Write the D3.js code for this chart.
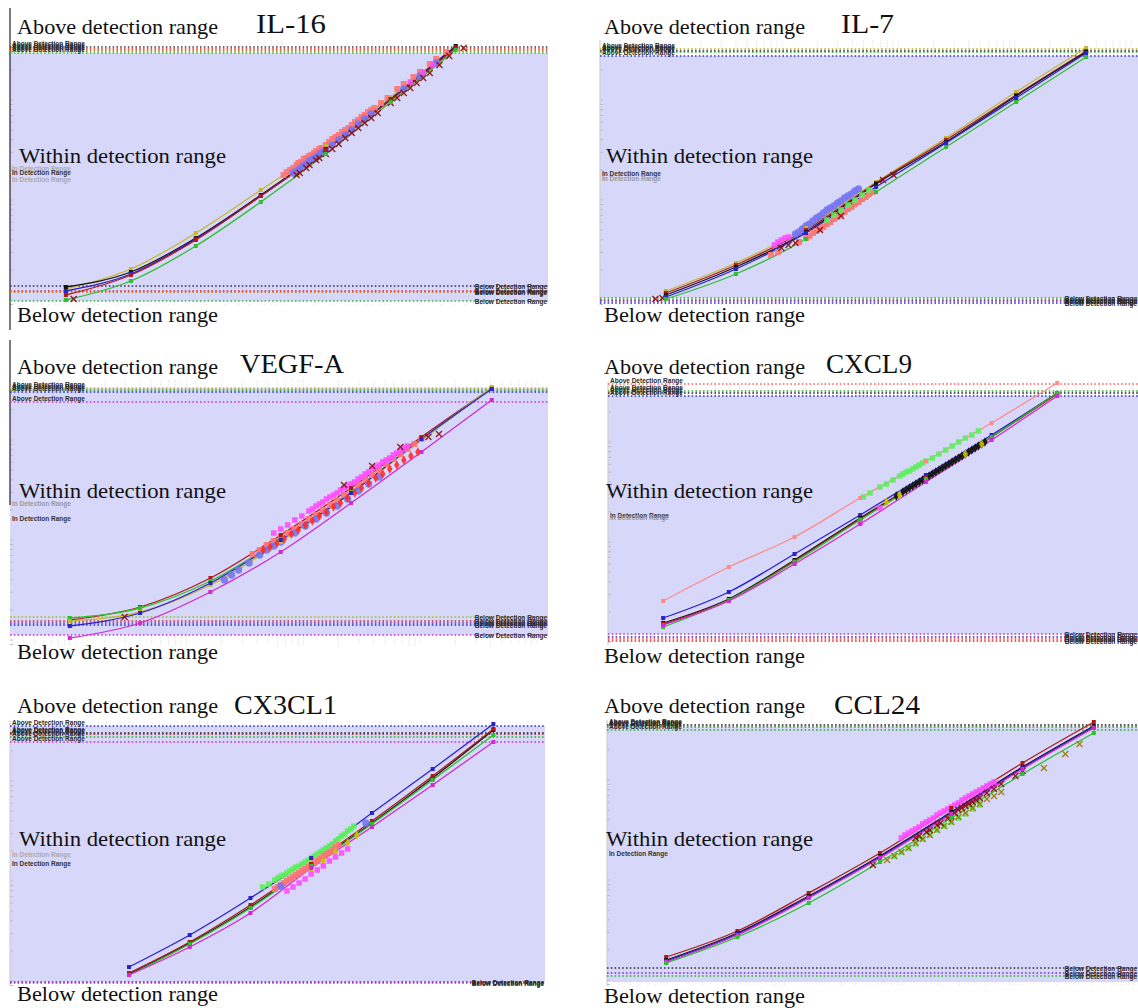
<!DOCTYPE html>
<html>
<head>
<meta charset="utf-8">
<script src="https://cdn.jsdelivr.net/npm/d3@7"></script>
<style>
  body { margin: 0; background: #fff; }
  svg { display: block; }
</style>
</head>
<body>
<div id="chart"></div>
<script>
// x: dilution step of the 4-fold standard series (S7 .. S1), y: log10 MFI
var stdSteps = [0, 1, 2, 3, 4, 5, 6];
var panelNames = ["IL-16", "IL-7", "VEGF-A", "CXCL9", "CX3CL1", "CCL24"];

// ---- standard curves (log10 MFI at each standard)
var il16Std = {
  olive: [2.11, 2.31, 2.67, 3.10, 3.54, 4.03, 4.54],
  black: [2.13, 2.28, 2.62, 3.05, 3.51, 4.01, 4.54],
  blue:  [2.09, 2.26, 2.61, 3.04, 3.50, 4.01, 4.53],
  red:   [2.05, 2.25, 2.60, 3.04, 3.50, 4.00, 4.52],
  green: [2.00, 2.19, 2.54, 2.98, 3.46, 3.98, 4.50]
};
var il7Std = {
  olive: [2.09, 2.37, 2.72, 3.18, 3.62, 4.08, 4.52],
  red:   [2.07, 2.35, 2.70, 3.17, 3.60, 4.05, 4.49],
  black: [2.05, 2.33, 2.68, 3.16, 3.58, 4.04, 4.48],
  blue:  [2.03, 2.31, 2.67, 3.13, 3.57, 4.02, 4.47],
  green: [2.01, 2.26, 2.61, 3.08, 3.53, 3.98, 4.43]
};
var vegfStd = {
  red:     [2.20, 2.33, 2.62, 3.05, 3.52, 4.03, 4.52],
  green:   [2.22, 2.32, 2.59, 3.01, 3.48, 4.00, 4.52],
  olive:   [2.19, 2.28, 2.55, 2.98, 3.47, 4.00, 4.53],
  blue:    [2.14, 2.27, 2.57, 3.00, 3.47, 4.01, 4.51],
  magenta: [2.02, 2.17, 2.48, 2.88, 3.37, 3.88, 4.40]
};
var cxcl9Std = {
  pink:    [2.41, 2.75, 3.05, 3.44, 3.81, 4.19, 4.59],
  blue:    [2.24, 2.50, 2.88, 3.27, 3.67, 4.07, 4.49],
  black:   [2.19, 2.43, 2.82, 3.24, 3.64, 4.05, 4.49],
  red:     [2.18, 2.42, 2.81, 3.23, 3.64, 4.05, 4.48],
  green:   [2.15, 2.42, 2.80, 3.22, 3.63, 4.05, 4.49],
  magenta: [2.17, 2.41, 2.78, 3.18, 3.60, 4.02, 4.46]
};
var cx3cl1Std = {
  blue:    [2.14, 2.46, 2.83, 3.23, 3.68, 4.12, 4.57],
  black:   [2.07, 2.38, 2.74, 3.16, 3.58, 4.03, 4.51],
  red:     [2.08, 2.39, 2.76, 3.17, 3.60, 4.05, 4.52],
  green:   [2.06, 2.37, 2.73, 3.15, 3.57, 4.01, 4.46],
  magenta: [2.06, 2.34, 2.68, 3.13, 3.54, 3.96, 4.39]
};
var ccl24Std = {
  red:     [2.23, 2.49, 2.87, 3.27, 3.72, 4.17, 4.58],
  black:   [2.20, 2.47, 2.84, 3.24, 3.68, 4.13, 4.54],
  blue:    [2.19, 2.46, 2.83, 3.23, 3.67, 4.12, 4.53],
  magenta: [2.18, 2.45, 2.82, 3.22, 3.66, 4.11, 4.52],
  green:   [2.17, 2.43, 2.77, 3.18, 3.62, 4.06, 4.47]
};

// ---- detection limits (log10 MFI)
var il16Upper = [4.53, 4.51, 4.49, 4.47],         il16Lower = [2.14, 2.09, 2.08, 1.99];
var il7Upper = [4.51, 4.49, 4.48, 4.44],          il7Lower = [2.02, 2.00, 1.99, 1.97];
var vegfUpper = [4.52, 4.50, 4.48, 4.38],         vegfLower = [2.23, 2.19, 2.17, 2.15, 2.05];
var cxcl9Upper = [4.58, 4.51, 4.49, 4.46],        cxcl9Lower = [2.08, 2.05, 2.03, 2.01];
var cx3cl1Upper = [4.55, 4.48, 4.47, 4.44, 4.39], cx3cl1Lower = [1.99, 1.98];
var ccl24Upper = [4.55, 4.54, 4.53, 4.50],        ccl24Lower = [2.12, 2.07, 2.04];

// ---- samples [step, log10 MFI]
var il16Samples = {
  salmon: [[3.35,3.25],[3.40,3.28],[3.45,3.30],[3.50,3.32],[3.55,3.35],[3.58,3.37],[3.62,3.38],[3.66,3.41],[3.70,3.42],[3.74,3.44],[3.78,3.45],[3.82,3.47],[3.85,3.49],[3.90,3.51],[3.93,3.52],[4.00,3.55],[4.05,3.58],[4.10,3.61],[4.15,3.63],[4.20,3.65],[4.25,3.68],[4.30,3.70],[4.35,3.72],[4.40,3.75],[4.45,3.78],[4.50,3.80],[4.55,3.83],[4.60,3.85],[4.65,3.88],[4.70,3.90],[4.75,3.92],[4.85,3.97],[4.95,4.02],[5.10,4.11],[5.20,4.16],[5.35,4.23],[5.45,4.28],[5.60,4.36],[5.70,4.41],[5.85,4.48]],
  periwinkle: [[3.50,3.27],[3.55,3.29],[3.60,3.31],[3.65,3.34],[3.70,3.36],[3.75,3.39],[3.80,3.41],[3.85,3.43],[3.90,3.46],[3.95,3.48],[4.00,3.50],[4.10,3.55],[4.20,3.60],[4.30,3.65],[4.40,3.70],[4.50,3.76],[4.60,3.81],[4.70,3.86],[5.20,4.11],[5.45,4.24],[5.70,4.37]],
  magenta: [[5.30,4.18],[5.50,4.28],[5.65,4.35]],
  maroon: [[0.12,2.01],[3.55,3.25],[3.60,3.27],[3.70,3.32],[3.75,3.35],[3.85,3.40],[3.90,3.42],[4.00,3.46],[4.10,3.51],[4.20,3.56],[4.30,3.62],[4.40,3.67],[4.50,3.72],[4.60,3.77],[4.70,3.82],[4.80,3.87],[5.00,3.97],[5.10,4.02],[5.20,4.07],[5.30,4.12],[5.40,4.17],[5.50,4.22],[5.60,4.27],[5.75,4.35],[5.90,4.44],[6.12,4.52]]
};
var il7Samples = {
  salmon: [[1.50,2.45],[1.60,2.48],[1.90,2.58],[2.00,2.62],[2.05,2.64],[2.10,2.67],[2.15,2.69],[2.20,2.71],[2.25,2.73],[2.30,2.76],[2.35,2.78],[2.40,2.81],[2.45,2.83],[2.50,2.86],[2.55,2.88],[2.60,2.91],[2.65,2.93],[2.70,2.96],[2.75,2.98],[2.80,3.01],[2.85,3.03],[2.90,3.06],[2.95,3.08]],
  periwinkle: [[1.85,2.66],[1.90,2.68],[1.95,2.71],[2.00,2.74],[2.05,2.76],[2.10,2.79],[2.15,2.82],[2.20,2.84],[2.25,2.87],[2.30,2.90],[2.35,2.92],[2.40,2.94],[2.45,2.97],[2.50,2.99],[2.55,3.02],[2.60,3.04],[2.65,3.06],[2.70,3.09],[2.75,3.11]],
  magenta: [[1.55,2.55],[1.60,2.58],[1.65,2.60],[1.70,2.62],[1.75,2.63]],
  green: [[2.30,2.80],[2.40,2.85],[2.50,2.90],[2.60,2.95],[2.70,3.00],[2.80,3.05],[2.90,3.10]],
  maroon: [[-0.15,2.01],[-0.05,2.02],[1.65,2.52],[1.75,2.55],[1.85,2.57],[2.20,2.70],[2.50,2.84],[3.10,3.20],[3.25,3.25]]
};
var vegfSamples = {
  salmon: [[2.60,2.86],[2.70,2.90],[2.80,2.95],[2.90,2.99],[3.00,3.03],[3.10,3.07],[3.20,3.11],[3.30,3.16],[3.40,3.21],[3.50,3.25],[3.60,3.30],[3.70,3.35],[3.80,3.40],[3.90,3.45],[4.00,3.50],[4.10,3.55],[4.20,3.60],[4.30,3.65],[4.40,3.70],[4.50,3.76],[4.60,3.81],[4.70,3.86],[4.80,3.91],[4.90,3.96],[5.00,4.01]],
  periwinkle: [[2.20,2.60],[2.30,2.65],[2.40,2.70],[2.55,2.77],[2.70,2.85],[2.80,2.90],[2.90,2.94],[3.00,2.98],[3.20,3.07],[3.35,3.14],[3.50,3.21],[3.65,3.27],[3.80,3.34],[3.95,3.41],[4.10,3.49],[4.25,3.56],[4.40,3.63]],
  magenta: [[2.90,3.07],[3.00,3.11],[3.10,3.15],[3.20,3.20],[3.30,3.24],[3.40,3.29],[3.45,3.31],[3.50,3.34],[3.55,3.36],[3.60,3.38],[3.65,3.41],[3.70,3.43],[3.75,3.45],[3.80,3.47],[3.85,3.50],[3.90,3.52],[3.95,3.54],[4.00,3.56],[4.05,3.58],[4.10,3.61],[4.15,3.63],[4.20,3.66],[4.25,3.68],[4.30,3.71],[4.35,3.73],[4.40,3.75],[4.45,3.78],[4.50,3.80],[4.55,3.82],[4.60,3.85],[4.65,3.87],[4.70,3.89],[4.75,3.92],[4.80,3.94]],
  red: [[2.75,2.90],[2.85,2.93],[2.95,2.97],[3.05,3.01],[3.15,3.06],[3.25,3.10],[3.35,3.15],[3.45,3.19],[3.55,3.24],[3.65,3.28],[3.75,3.33],[3.85,3.37],[3.95,3.42],[4.05,3.47],[4.15,3.52],[4.25,3.57],[4.35,3.62],[4.45,3.66],[4.55,3.71],[4.65,3.75],[4.75,3.80],[4.85,3.84],[4.95,3.88]],
  maroon: [[0.78,2.23],[3.90,3.55],[4.30,3.74],[4.70,3.93],[5.10,4.03],[5.25,4.06]]
};
var cxcl9Samples = {
  green: [[3.05,3.45],[3.15,3.49],[3.30,3.55],[3.40,3.58],[3.50,3.62],[3.60,3.66],[3.65,3.68],[3.70,3.70],[3.75,3.71],[3.80,3.73],[3.85,3.75],[3.90,3.77],[3.95,3.79],[4.00,3.81],[4.10,3.84],[4.20,3.88],[4.30,3.92],[4.40,3.96],[4.50,4.00],[4.60,4.04],[4.70,4.07],[4.80,4.11]],
  magenta: [[3.00,3.20],[3.30,3.34]],
  black: [[3.55,3.46],[3.65,3.50],[3.70,3.52],[3.75,3.54],[3.80,3.56],[3.85,3.58],[3.90,3.60],[3.95,3.62],[4.00,3.64],[4.05,3.66],[4.10,3.68],[4.15,3.70],[4.20,3.72],[4.25,3.74],[4.30,3.76],[4.35,3.78],[4.40,3.80],[4.45,3.82],[4.50,3.84],[4.55,3.86],[4.60,3.88],[4.65,3.90],[4.70,3.92],[4.75,3.94],[4.80,3.96],[4.85,3.98],[4.90,4.00]],
  yellow: [[3.40,3.40],[3.60,3.47],[4.60,3.88],[4.85,3.98]]
};
var cx3cl1Samples = {
  green: [[2.20,2.94],[2.30,2.97],[2.40,3.01],[2.45,3.03],[2.50,3.05],[2.55,3.06],[2.60,3.08],[2.65,3.10],[2.70,3.12],[2.75,3.14],[2.80,3.15],[2.85,3.17],[2.90,3.19],[2.95,3.21],[3.00,3.23],[3.05,3.25],[3.10,3.27],[3.15,3.29],[3.20,3.31],[3.25,3.33],[3.30,3.35],[3.35,3.37],[3.40,3.40],[3.45,3.42],[3.50,3.45],[3.55,3.47],[3.60,3.50],[3.65,3.52],[3.70,3.55]],
  salmon: [[2.40,2.92],[2.45,2.94],[2.50,2.96],[2.55,2.98],[2.60,3.00],[2.65,3.02],[2.70,3.04],[2.75,3.06],[2.80,3.08],[2.85,3.10],[2.90,3.12],[2.95,3.14],[3.00,3.16],[3.05,3.18],[3.10,3.20],[3.15,3.22],[3.20,3.25],[3.25,3.27],[3.30,3.29],[3.35,3.31],[3.40,3.34],[3.45,3.36]],
  yellow: [[3.00,3.12],[3.20,3.20],[3.40,3.29],[3.60,3.38],[3.75,3.46]],
  magenta: [[2.60,2.90],[2.70,2.94],[2.80,2.98],[2.90,3.02],[3.00,3.07],[3.10,3.11],[3.20,3.15],[3.30,3.20],[3.40,3.24],[3.50,3.28],[3.60,3.32]],
  periwinkle: [[2.50,2.95],[3.90,3.58]]
};
var ccl24Samples = {
  magenta: [[3.30,3.42],[3.35,3.45],[3.40,3.47],[3.45,3.49],[3.50,3.51],[3.55,3.53],[3.60,3.56],[3.65,3.58],[3.70,3.60],[3.75,3.62],[3.80,3.65],[3.85,3.67],[3.90,3.69],[3.95,3.71],[4.00,3.73],[4.05,3.75],[4.10,3.77],[4.15,3.80],[4.20,3.82],[4.25,3.84],[4.30,3.86],[4.35,3.88],[4.40,3.90],[4.45,3.92],[4.50,3.94],[4.55,3.96],[4.60,3.98]],
  green: [[3.20,3.24],[3.30,3.28],[3.40,3.32],[3.50,3.36],[3.60,3.41],[3.70,3.45],[3.80,3.50],[3.90,3.54],[4.00,3.58],[4.10,3.62],[4.20,3.66],[4.30,3.71],[4.40,3.75]],
  olive: [[3.10,3.20],[3.20,3.24],[3.30,3.28],[3.40,3.32],[3.50,3.37],[3.60,3.41],[3.70,3.45],[3.80,3.50],[3.90,3.54],[4.00,3.58],[4.10,3.63],[4.20,3.67],[4.30,3.72],[4.40,3.76],[4.50,3.81],[4.60,3.84],[4.70,3.88],[5.30,4.12],[5.60,4.26],[5.80,4.36]],
  maroon: [[2.90,3.15],[3.50,3.42],[3.55,3.44],[3.65,3.48],[3.70,3.50],[3.80,3.55],[3.85,3.57],[3.95,3.62],[4.00,3.64],[4.05,3.67],[4.10,3.70],[4.15,3.72],[4.20,3.74],[4.25,3.76],[4.30,3.78],[4.35,3.80],[4.40,3.82],[4.50,3.87],[4.60,3.91],[4.70,3.96],[4.90,4.04],[5.00,4.09]]
};

var panelStd = [il16Std, il7Std, vegfStd, cxcl9Std, cx3cl1Std, ccl24Std];
var panelUpper = [il16Upper, il7Upper, vegfUpper, cxcl9Upper, cx3cl1Upper, ccl24Upper];
var panelLower = [il16Lower, il7Lower, vegfLower, cxcl9Lower, cx3cl1Lower, ccl24Lower];
var panelSamples = [il16Samples, il7Samples, vegfSamples, cxcl9Samples, cx3cl1Samples, ccl24Samples];

// ---- styles
var stdColors = {olive: "#c4b832", black: "#161616", blue: "#2a22cc", red: "#b01a1a",
                 green: "#2fbf2f", magenta: "#cf2bcf", pink: "#ff8a8a"};
var sampleStyles = {
  salmon:     {color: "#ff7474", shape: "square",  size: 6},
  periwinkle: {color: "#7676f2", shape: "circle",  size: 6.5},
  magenta:    {color: "#ff4cff", shape: "square",  size: 5.5},
  green:      {color: "#5cf05c", shape: "square",  size: 5.5},
  black:      {color: "#101010", shape: "diamond", size: 5},
  yellow:     {color: "#c9c200", shape: "diamond", size: 5},
  red:        {color: "#ff2a2a", shape: "diamond", size: 5},
  maroon:     {color: "#8a0c0c", shape: "x",       size: 5},
  olive:      {color: "#9a7800", shape: "x",       size: 5}
};

var layout = [
  {tx: 17, left: 10, right: 548, top: 40, bottom: 305, xDomain: [-0.86, 7.42], yDomain: [1.95, 4.6], bg: [1.99, 4.47],
   aboveY: 34, withinY: 163, belowY: 322, titleX: 256, titleY: 33, titleLen: 70, axis: [8, 330, "#222"],
   upperColors: ["#444", "#d83030", "#c06000", "#30c030"], lowerColors: ["#333366", "#d83030", "#c87000", "#30c030"],
   inLabels: [[171, "#aaa"], [175, "#333"], [182, "#aaa"]]},
  {tx: 604, left: 600, right: 1138, top: 40, bottom: 305, xDomain: [-0.94, 6.74], yDomain: [1.95, 4.6], bg: [2.02, 4.44],
   aboveY: 34, withinY: 163, belowY: 322, titleX: 841, titleY: 33, titleLen: 53, axis: [40, 305, "#cfcfcf"],
   upperColors: ["#c0b020", "#222", "#30b030", "#3030c0"], lowerColors: ["#30b030", "#b03030", "#8030c0", "#3030d0"],
   inLabels: [[176, "#333"], [181, "#999"]]},
  {tx: 17, left: 10, right: 548, top: 380, bottom: 645, xDomain: [-0.85, 6.80], yDomain: [1.95, 4.6], bg: [2.05, 4.52],
   aboveY: 374, withinY: 498, belowY: 659, titleX: 240, titleY: 373, titleLen: 104, axis: [340, 505, "#222"],
   upperColors: ["#c0c020", "#30b030", "#3030c0", "#d030d0"], lowerColors: ["#a0c020", "#d03030", "#8030a0", "#3030c0", "#d030d0"],
   inLabels: [[506, "#999"], [521, "#333"]]},
  {tx: 604, left: 608, right: 1138, top: 382, bottom: 645, xDomain: [-0.84, 7.23], yDomain: [1.97, 4.6], bg: [2.08, 4.46],
   aboveY: 374, withinY: 498, belowY: 663, titleX: 826, titleY: 373, titleLen: 86, axis: [382, 645, "#cfcfcf"],
   upperColors: ["#ff6060", "#30b030", "#222", "#3030d0"], lowerColors: ["#c040c0", "#3030d0", "#ff4040", "#e03030"],
   inLabels: [[518, "#333"], [520, "#999"]]},
  {tx: 17, left: 10, right: 545, top: 721, bottom: 986, xDomain: [-1.96, 6.85], yDomain: [1.95, 4.6], bg: [1.99, 4.55],
   aboveY: 713, withinY: 846, belowY: 1001, titleX: 234, titleY: 714, titleLen: 103, axis: [721, 986, "#cfcfcf"],
   upperColors: ["#3030d0", "#222", "#a02020", "#30b030", "#d030d0"], lowerColors: ["#3030d0", "#c030c0"],
   inLabels: [[857, "#aaa"], [866, "#333"]]},
  {tx: 604, left: 607, right: 1138, top: 720, bottom: 986, xDomain: [-0.83, 6.62], yDomain: [1.94, 4.6], bg: [1.98, 4.53],
   aboveY: 713, withinY: 846, belowY: 1003, titleX: 834, titleY: 714, titleLen: 86, axis: [720, 986, "#cfcfcf"],
   upperColors: ["#222", "#c030c0", "#30b030", "#30b030"], lowerColors: ["#333", "#8030c0", "#30b030"],
   inLabels: [[856, "#333"]]}
];

var svg = d3.select("#chart").append("svg").attr("width", 1138).attr("height", 1008);
svg.append("rect").attr("width", 1138).attr("height", 1008).attr("fill", "#fff");

function symbolPath(shape, size) {
  var type = {square: d3.symbolSquare, circle: d3.symbolCircle, diamond: d3.symbolDiamond, x: d3.symbolX}[shape];
  return d3.symbol().type(type).size(size * size)();
}

layout.forEach(function(L, i) {
  var std = panelStd[i], samples = panelSamples[i];
  var g = svg.append("g");
  var x = d3.scaleLinear().domain(L.xDomain).range([L.left, L.right]);
  var y = d3.scaleLinear().domain(L.yDomain).range([L.bottom, L.top]);

  // faint log grid (concentration = 4^step)
  var gx = d3.scaleLog().domain([Math.pow(4, L.xDomain[0]), Math.pow(4, L.xDomain[1])]).range([L.left, L.right]);
  g.selectAll(".grid").data(gx.ticks()).enter().append("line")
    .attr("x1", d => gx(d)).attr("x2", d => gx(d))
    .attr("y1", L.top).attr("y2", L.bottom)
    .attr("stroke", "#e3e3e3").attr("stroke-dasharray", "1,1");

  // lavender "in range" band
  g.append("rect")
    .attr("x", L.left).attr("width", L.right - L.left)
    .attr("y", y(L.bg[1])).attr("height", y(L.bg[0]) - y(L.bg[1]))
    .attr("fill", "#d7d7fa");

  // left axis with minor ticks
  var gy = d3.scaleLog().domain([Math.pow(10, L.yDomain[0]), Math.pow(10, L.yDomain[1])]).range([L.bottom, L.top]);
  g.selectAll(".ytick").data(gy.ticks()).enter().append("line")
    .attr("x1", L.left).attr("x2", L.left + 3)
    .attr("y1", d => gy(d)).attr("y2", d => gy(d))
    .attr("stroke", "#b8b8c8");
  g.append("line").attr("x1", L.left).attr("x2", L.left)
    .attr("y1", L.axis[0]).attr("y2", L.axis[1])
    .attr("stroke", L.axis[2]).attr("stroke-width", 1.2);

  // detection limit lines
  var limits = panelUpper[i].map((v, k) => ({v: v, c: L.upperColors[k], up: true}))
    .concat(panelLower[i].map((v, k) => ({v: v, c: L.lowerColors[k], up: false})));
  g.selectAll(".limit").data(limits).enter().append("line")
    .attr("x1", L.left).attr("x2", L.right)
    .attr("y1", d => y(d.v)).attr("y2", d => y(d.v))
    .attr("stroke", d => d.c).attr("stroke-width", 1.6).attr("stroke-dasharray", "1.6,2.2");

  // tiny software labels
  var tiny = "'Liberation Sans', Arial, sans-serif";
  g.selectAll(".upLab").data(limits.filter(d => d.up)).enter().append("text")
    .attr("x", L.left + 2).attr("y", d => y(d.v) - 1)
    .attr("font-family", tiny).attr("font-size", 6.5).attr("font-weight", "bold")
    .attr("fill", "#2a2a2a").text("Above Detection Range");
  g.selectAll(".lowLab").data(limits.filter(d => !d.up)).enter().append("text")
    .attr("x", L.right - 1).attr("y", d => y(d.v) + 3).attr("text-anchor", "end")
    .attr("font-family", tiny).attr("font-size", 6.5).attr("font-weight", "bold")
    .attr("fill", "#2a2a2a").text("Below Detection Range");
  g.selectAll(".inLab").data(L.inLabels).enter().append("text")
    .attr("x", L.left + 2).attr("y", d => d[0])
    .attr("font-family", tiny).attr("font-size", 6.5).attr("font-weight", "bold")
    .attr("fill", d => d[1]).text("In Detection Range");

  // standard curves
  var line = d3.line().x(d => x(d[0])).y(d => y(d[1])).curve(d3.curveMonotoneX);
  var keys = Object.keys(std);
  keys.forEach(function(k) {
    g.append("path").datum(stdSteps.map((s, j) => [s, std[k][j]]))
      .attr("d", line).attr("fill", "none")
      .attr("stroke", stdColors[k]).attr("stroke-width", 1.3);
  });

  // samples
  Object.keys(samples).forEach(function(k) {
    var st = sampleStyles[k];
    var isX = st.shape === "x";
    g.selectAll(".s" + k).data(samples[k]).enter().append("path")
      .attr("d", symbolPath(st.shape, st.size))
      .attr("transform", d => "translate(" + x(d[0]) + "," + y(d[1]) + ")")
      .attr("fill", isX ? "none" : st.color)
      .attr("stroke", isX ? st.color : "none")
      .attr("stroke-width", 1.4)
      .attr("opacity", 0.9);
  });

  // standard markers
  keys.forEach(function(k) {
    g.selectAll(".m" + k).data(stdSteps.map((s, j) => [s, std[k][j]])).enter().append("rect")
      .attr("x", d => x(d[0]) - 2).attr("y", d => y(d[1]) - 2)
      .attr("width", 4).attr("height", 4)
      .attr("fill", stdColors[k]);
  });

  // big annotation texts
  var serif = "'Liberation Serif', 'Times New Roman', serif";
  g.append("text").attr("x", L.tx).attr("y", L.aboveY)
    .attr("font-family", serif).attr("font-size", 21).attr("fill", "#111")
    .attr("textLength", 201).attr("lengthAdjust", "spacingAndGlyphs")
    .text("Above detection range");
  g.append("text").attr("x", L.tx + 2).attr("y", L.withinY)
    .attr("font-family", serif).attr("font-size", 21).attr("fill", "#111")
    .attr("textLength", 207).attr("lengthAdjust", "spacingAndGlyphs")
    .text("Within detection range");
  g.append("text").attr("x", L.tx).attr("y", L.belowY)
    .attr("font-family", serif).attr("font-size", 21).attr("fill", "#111")
    .attr("textLength", 201).attr("lengthAdjust", "spacingAndGlyphs")
    .text("Below detection range");
  g.append("text").attr("x", L.titleX).attr("y", L.titleY)
    .attr("font-family", serif).attr("font-size", 28).attr("fill", "#111")
    .attr("textLength", L.titleLen).attr("lengthAdjust", "spacingAndGlyphs")
    .text(panelNames[i]);
});
</script>
</body>
</html>
